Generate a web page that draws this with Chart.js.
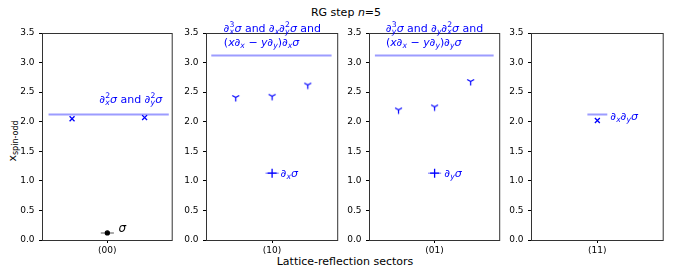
<!DOCTYPE html>
<html>
<head>
<meta charset="utf-8">
<script src="https://cdn.jsdelivr.net/npm/chart.js@4.4.0/dist/chart.umd.min.js"></script>
<style>
  body { margin: 0; background: #fff; }
  #fig { position: relative; width: 674px; height: 274px; font-family: 'DejaVu Sans', sans-serif; overflow: hidden; }
  #fig canvas { position: absolute; top: 0; }
  .lbl { position: absolute; font-size: 11px; line-height: 11px; white-space: nowrap; color: #000; }
  #title { left: 346px; top: 7px; transform: translateX(-50%); }
  #xlab { left: 345px; top: 256px; transform: translateX(-50%); }
  #ylab { left: 12px; top: 141px; transform: translate(-50%, -50%) rotate(-90deg); }
  #ylab sub { font-size: 8px; vertical-align: -2px; line-height: 0; }
</style>
</head>
<body>
<div id="fig">
  <div class="lbl" id="title">RG step <i>n</i>=5</div>
  <div class="lbl" id="xlab">Lattice-reflection sectors</div>
  <div class="lbl" id="ylab">x<sub>spin-odd</sub></div>
</div>
<script>
const sectors = ['(00)', '(10)', '(01)', '(11)'];
const yTicks = [0, 0.5, 1, 1.5, 2, 2.5, 3, 3.5];

// light blue level bar in each sector
const levelY = [2.12, 3.12, 3.12, 2.12];
const levelFrom = [-0.9, -0.92, -0.91, -0.15];
const levelTo = [0.94, 0.9, 0.9, 0.15];

// lowest operator per sector, with horizontal error bar
const lowX = [0, 0, 0];
const lowY = [0.12, 1.13, 1.13];
const lowErr = [0.1, 0.1, 0.1];

// descendant points
const descX = [[-0.54, 0.57], [-0.55, 0, 0.54], [-0.55, 0, 0.55], [0]];
const descY = [[2.05, 2.07], [2.41, 2.43, 2.62], [2.20, 2.25, 2.68], [2.02]];

// layout
const panelLeft = [42, 206, 369, 531];
const panelRight = [176, 342, 504, 667];
const AXW = 32, TOP = 33, BOTTOM = 240, H = 274;
const BLUE = '#0000ff', LIGHT = '#9c9cff';
const FONT = "'DejaVu Sans', sans-serif";

function triDown() {
  const c = document.createElement('canvas');
  c.width = c.height = 11;
  const g = c.getContext('2d');
  g.strokeStyle = BLUE; g.lineWidth = 1.2;
  const cx = 5.5, cy = 5.5, r = 4;
  g.beginPath();
  g.moveTo(cx, cy); g.lineTo(cx, cy + r);
  g.moveTo(cx, cy); g.lineTo(cx - r * 0.866, cy - r * 0.5);
  g.moveTo(cx, cy); g.lineTo(cx + r * 0.866, cy - r * 0.5);
  g.stroke();
  return c;
}
const triImg = triDown();

// rich text: [text, kind]  r=regular i=italic b=subscript(italic) p=superscript
function drawRich(ctx, x, y, parts, size, color) {
  ctx.save();
  ctx.fillStyle = color;
  ctx.textBaseline = 'alphabetic';
  ctx.textAlign = 'left';
  let subStart = null, subEnd = null;
  for (const [t, k] of parts) {
    let f, dy = 0, startX = x;
    if (k === 'r') f = size + 'px ' + FONT;
    else if (k === 'i') f = 'italic ' + size + 'px ' + FONT;
    else if (k === 'b') { f = 'italic ' + (size * 0.7) + 'px ' + FONT; dy = size * 0.22; }
    else { f = (size * 0.7) + 'px ' + FONT; dy = -size * 0.4; if (subStart !== null) startX = subStart; }
    ctx.font = f;
    ctx.fillText(t, startX, y + dy);
    const w = ctx.measureText(t).width;
    if (k === 'b') { subStart = x; subEnd = x + w; x += w; }
    else if (k === 'p' && subStart !== null) { x = Math.max(subEnd, startX + w); subStart = null; }
    else { x += w; subStart = null; }
  }
  ctx.restore();
}

const line2 = (v) => [['(', 'r'], ['x', 'i'], ['∂', 'r'], ['x', 'b'], [' − ', 'r'], ['y', 'i'], ['∂', 'r'], ['y', 'b'], [')', 'r'], ['∂', 'r'], [v, 'b'], ['σ', 'i']];
const notes = [
  [
    { x: -0.12, y: 2.32, c: BLUE, s: 11, p: [['∂', 'r'], ['x', 'b'], ['2', 'p'], ['σ', 'i'], [' and ', 'r'], ['∂', 'r'], ['y', 'b'], ['2', 'p'], ['σ', 'i']] },
    { x: 0.17, y: 0.14, c: '#000', s: 12, p: [['σ', 'i']] }
  ],
  [
    { x: -0.73, y: 3.52, c: BLUE, s: 11, p: [['∂', 'r'], ['x', 'b'], ['3', 'p'], ['σ', 'i'], [' and ', 'r'], ['∂', 'r'], ['x', 'b'], ['∂', 'r'], ['y', 'b'], ['2', 'p'], ['σ', 'i'], [' and', 'r']] },
    { x: -0.73, y: 3.28, c: BLUE, s: 11, p: line2('x') },
    { x: 0.13, y: 1.07, c: BLUE, s: 11, p: [['∂', 'r'], ['x', 'b'], ['σ', 'i']] }
  ],
  [
    { x: -0.74, y: 3.52, c: BLUE, s: 11, p: [['∂', 'r'], ['y', 'b'], ['3', 'p'], ['σ', 'i'], [' and ', 'r'], ['∂', 'r'], ['y', 'b'], ['∂', 'r'], ['x', 'b'], ['2', 'p'], ['σ', 'i'], [' and', 'r']] },
    { x: -0.74, y: 3.28, c: BLUE, s: 11, p: line2('y') },
    { x: 0.15, y: 1.07, c: BLUE, s: 11, p: [['∂', 'r'], ['y', 'b'], ['σ', 'i']] }
  ],
  [
    { x: 0.2, y: 2.03, c: BLUE, s: 11, p: [['∂', 'r'], ['x', 'b'], ['∂', 'r'], ['y', 'b'], ['σ', 'i']] }
  ]
];

const framePlugin = {
  id: 'frame',
  afterDraw(chart) {
    const { ctx, chartArea: a } = chart;
    ctx.save();
    ctx.strokeStyle = '#333';
    ctx.lineWidth = 1;
    ctx.strokeRect(a.left + 0.5, a.top + 0.5, a.right - a.left - 1, a.bottom - a.top);
    ctx.restore();
    const xs = chart.scales.x, ys = chart.scales.y;
    for (const n of chart.options.plugins.notes.items) {
      drawRich(ctx, xs.getPixelForValue(n.x), ys.getPixelForValue(n.y), n.p, n.s, n.c);
    }
  }
};

const fig = document.getElementById('fig');

sectors.forEach((name, i) => {
  const cv = document.createElement('canvas');
  const w = AXW + (panelRight[i] - panelLeft[i]) + 2;
  cv.width = w; cv.height = H;
  cv.style.left = (panelLeft[i] - AXW) + 'px';
  cv.style.width = w + 'px'; cv.style.height = H + 'px';
  fig.appendChild(cv);

  const datasets = [{
    data: [{ x: levelFrom[i], y: levelY[i] }, { x: levelTo[i], y: levelY[i] }],
    showLine: true, borderColor: LIGHT, borderWidth: 2, pointRadius: 0, order: 3
  }];
  if (i < lowX.length) {
    datasets.push({
      data: [{ x: lowX[i] - lowErr[i], y: lowY[i] }, { x: lowX[i] + lowErr[i], y: lowY[i] }],
      showLine: true, borderColor: i === 0 ? '#8c8c8c' : LIGHT, borderWidth: 1.5, pointRadius: 0, order: 2
    });
    datasets.push({
      data: [{ x: lowX[i], y: lowY[i] }],
      pointStyle: i === 0 ? 'circle' : 'cross',
      pointRadius: i === 0 ? 2 : 4.5,
      backgroundColor: i === 0 ? '#000' : BLUE,
      borderColor: i === 0 ? '#000' : BLUE,
      borderWidth: 1.3, order: 1
    });
  }
  const useTri = i === 1 || i === 2;
  datasets.push({
    data: descX[i].map((x, k) => ({ x, y: descY[i][k] })),
    pointStyle: useTri ? triImg : 'crossRot',
    pointRadius: 3.5, borderColor: BLUE, backgroundColor: BLUE, borderWidth: 1.3, order: 1
  });

  new Chart(cv, {
    type: 'scatter',
    data: { datasets },
    plugins: [framePlugin],
    options: {
      responsive: false,
      animation: false,
      devicePixelRatio: 1,
      layout: { padding: { top: TOP, right: 2, bottom: 0, left: 0 } },
      plugins: { legend: { display: false }, tooltip: { enabled: false }, notes: { items: notes[i] } },
      scales: {
        x: {
          type: 'linear', min: -1, max: 1,
          afterFit: (s) => { s.height = H - BOTTOM; },
          afterBuildTicks: (s) => { s.ticks = [{ value: 0 }]; },
          grid: { drawOnChartArea: false, drawTicks: true, tickLength: 3, tickColor: '#000' },
          border: { display: false },
          ticks: { callback: () => name, color: '#000', padding: 2, font: { family: FONT, size: 9 }, maxRotation: 0 }
        },
        y: {
          type: 'linear', min: 0, max: 3.5,
          afterFit: (s) => { s.width = AXW; },
          afterBuildTicks: (s) => { s.ticks = yTicks.map(v => ({ value: v })); },
          grid: { drawOnChartArea: false, drawTicks: true, tickLength: 3, tickColor: '#000' },
          border: { display: false },
          ticks: { callback: (v) => v.toFixed(1), color: '#000', padding: 4.5, font: { family: FONT, size: 9 } }
        }
      }
    }
  });
});
</script>
</body>
</html>
